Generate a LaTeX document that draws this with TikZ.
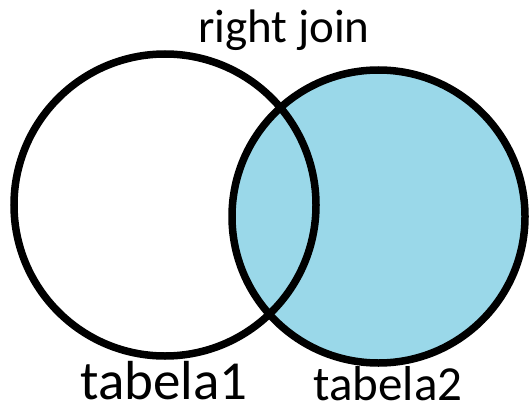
\documentclass[tikz,border=0pt]{standalone}
\usepackage{fontspec}
\setmainfont{Carlito}
\definecolor{joinblue}{RGB}{154,216,233}

\begin{document}
\begin{tikzpicture}
  [x=1pt,y=-1pt,
   set/.style={circle,draw=black,line width=7.5pt,inner sep=0pt},
   label/.style={anchor=base,inner sep=0pt}]
  \useasboundingbox (0,0) rectangle (529,401);

  \node[set,fill=joinblue,minimum size=293pt] (t2) at (378.5,216.5) {};
  \node[set,minimum size=302pt] (t1) at (165,205) {};

  \node[label,font=\fontsize{47}{56}\selectfont] (title) at (284,43) {right join};
  \node[label,font=\fontsize{55}{66}\selectfont] (l1) at (164,399) {tabela1};
  \node[label,font=\fontsize{49}{59}\selectfont] (l2) at (388,400) {tabela2};

\end{tikzpicture}
\end{document}
